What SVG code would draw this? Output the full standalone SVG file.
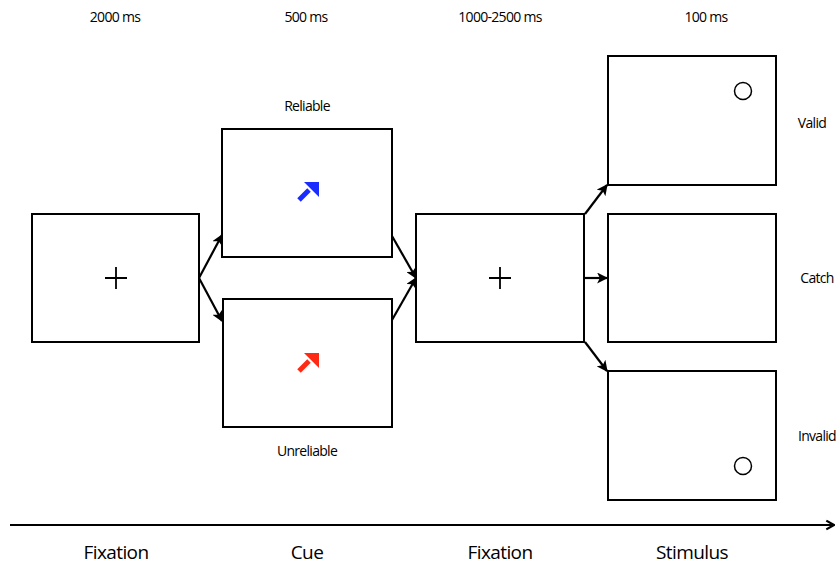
<svg xmlns="http://www.w3.org/2000/svg" width="839" height="566" viewBox="0 0 839 566">
<style>
.box{fill:#fff;stroke:#000;stroke-width:2}
.t{font-family:"Open Sans","Liberation Sans",sans-serif;font-size:14px;fill:#000;text-anchor:middle;letter-spacing:-0.7px}
.b{font-family:"Open Sans","Liberation Sans",sans-serif;font-size:19px;fill:#000;text-anchor:middle;letter-spacing:-0.6px}
.c{stroke:#000;stroke-width:2.2;fill:none}
.plus{stroke:#000;stroke-width:1.8}
</style>
<defs>
<marker id="ah" viewBox="0 0 10 10" refX="9" refY="5" markerWidth="5" markerHeight="5" orient="auto" markerUnits="strokeWidth">
<path d="M0,0 L10,5 L0,10 L2.5,5 Z" fill="#000"/>
</marker>
<marker id="open" viewBox="0 0 10 10" refX="9" refY="5" markerWidth="5" markerHeight="6" orient="auto" markerUnits="strokeWidth">
<path d="M2,1 L9,5 L2,9" fill="none" stroke="#000" stroke-width="2"/>
</marker>
</defs>
<g id="timing">
<text class="t" x="115" y="22">2000 ms</text>
<text class="t" x="306" y="22">500 ms</text>
<text class="t" x="500" y="22">1000-2500 ms</text>
<text class="t" x="706" y="22">100 ms</text>
</g>
<g id="fix1">
<rect class="box" x="32" y="214" width="167" height="128"/>
<path class="plus" d="M105,278 H127 M116,267 V289"/>
</g>
<g id="cue-reliable">
<rect class="box" x="222" y="129" width="170" height="128"/>
<text class="t" x="307" y="111">Reliable</text>
<path d="M299,200 L309,190" stroke="#1a2cff" stroke-width="5"/>
<path d="M304,182 L319,182 L319,197 Z" fill="#1a2cff"/>
</g>
<g id="cue-unreliable">
<rect class="box" x="223" y="299" width="169" height="128"/>
<text class="t" x="307" y="456">Unreliable</text>
<path d="M299,371 L309,361" stroke="#ff2a14" stroke-width="5"/>
<path d="M304,353 L319,353 L319,368 Z" fill="#ff2a14"/>
</g>
<g id="fix2">
<rect class="box" x="416" y="214" width="168" height="128"/>
<path class="plus" d="M489,278 H511 M500,267 V289"/>
</g>
<g id="stim-valid">
<rect class="box" x="608" y="56" width="168" height="129"/>
<circle cx="743" cy="91" r="8.5" fill="none" stroke="#000" stroke-width="1.5"/>
<text class="t" x="812" y="128">Valid</text>
</g>
<g id="stim-catch">
<rect class="box" x="608" y="214" width="168" height="128"/>
<text class="t" x="817" y="283">Catch</text>
</g>
<g id="stim-invalid">
<rect class="box" x="608" y="371" width="168" height="129"/>
<circle cx="743" cy="466" r="8.5" fill="none" stroke="#000" stroke-width="1.5"/>
<text class="t" x="817" y="441">Invalid</text>
</g>
<g id="connectors">
<path class="c" d="M199,278 L222,235" marker-end="url(#ah)"/>
<path class="c" d="M199,278 L222,321" marker-end="url(#ah)"/>
<path class="c" d="M392,236 L416,278" marker-end="url(#ah)"/>
<path class="c" d="M392,320 L416,278" marker-end="url(#ah)"/>
<path class="c" d="M585,214 L607,185" marker-end="url(#ah)"/>
<path class="c" d="M585,278 L607,278" marker-end="url(#ah)"/>
<path class="c" d="M585,342 L607,371" marker-end="url(#ah)"/>
<path class="c" d="M10,525 L834,525" marker-end="url(#open)"/>
</g>
<g id="phases">
<text class="b" x="116" y="559">Fixation</text>
<text class="b" x="307" y="559">Cue</text>
<text class="b" x="500" y="559">Fixation</text>
<text class="b" x="692" y="559">Stimulus</text>
</g>
</svg>
